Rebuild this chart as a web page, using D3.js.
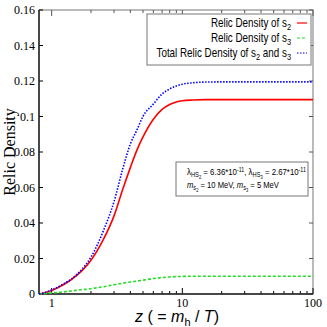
<!DOCTYPE html>
<html>
<head>
<meta charset="utf-8">
<script src="https://cdn.jsdelivr.net/npm/d3@7"></script>
<style>
  body { margin: 0; background: #fff; }
  svg { display: block; }
</style>
</head>
<body>
<svg width="327" height="327"></svg>
<script>
// values
const zValues = [0.8, 0.9, 1, 1.2, 1.4, 1.7, 2, 2.5, 3, 3.5, 4, 4.5, 5, 6, 7, 8, 9, 10, 12, 15, 20, 30, 50, 100];
const s2Density = [0, 0.0009, 0.002, 0.0048, 0.0079, 0.013, 0.019, 0.031, 0.044, 0.059, 0.0712, 0.0812, 0.0885, 0.0985, 0.1040, 0.1068, 0.1082, 0.1089, 0.1093, 0.1095, 0.1095, 0.1095, 0.1095, 0.1095];
const s3Density = [0, 0.0003, 0.0006, 0.0011, 0.0017, 0.0024, 0.003, 0.0041, 0.0052, 0.0061, 0.0068, 0.0073, 0.0078, 0.0087, 0.0093, 0.0096, 0.0098, 0.0099, 0.01, 0.01, 0.01, 0.01, 0.01, 0.01];
const totalDensity = [0, 0.001, 0.0022, 0.0052, 0.0082, 0.0138, 0.0208, 0.036, 0.052, 0.0705, 0.0845, 0.0925, 0.1001, 0.107, 0.1127, 0.1155, 0.1172, 0.1182, 0.119, 0.1194, 0.1195, 0.1195, 0.1195, 0.1195];
const yTicks = [0, 0.02, 0.04, 0.06, 0.08, 0.1, 0.12, 0.14, 0.16];
const xTickLabels = [1, 10, 100];

const margin = { left: 39, right: 14, top: 10, bottom: 33 };
const W = 327, H = 327;
const svg = d3.select('svg');

const x = d3.scaleLog().domain([0.8, 100]).range([margin.left, W - margin.right]);
const y = d3.scaleLinear().domain([0, 0.16]).range([H - margin.bottom, margin.top]);

const x0 = margin.left, x1 = W - margin.right, y0 = H - margin.bottom, y1 = margin.top;

// frame
svg.append('rect')
  .attr('x', x0).attr('y', y1)
  .attr('width', x1 - x0).attr('height', y0 - y1)
  .attr('fill', 'none').attr('stroke', '#777').attr('stroke-width', 1);

// minor/major log ticks (bottom & top, inward)
const logTicks = [];
for (let d = 1; d <= 10; d *= 10) {
  for (let k = 1; k < 10; k++) logTicks.push(k * d);
}
logTicks.push(100);
logTicks.forEach(t => {
  const major = xTickLabels.includes(t);
  const len = major ? 6 : 3;
  svg.append('line').attr('x1', x(t)).attr('x2', x(t)).attr('y1', y0).attr('y2', y0 - len)
    .attr('stroke', '#000').attr('stroke-width', 1);
  svg.append('line').attr('x1', x(t)).attr('x2', x(t)).attr('y1', y1).attr('y2', y1 + len)
    .attr('stroke', '#555').attr('stroke-width', 1);
});

// y ticks (left & right, inward)
yTicks.forEach(t => {
  svg.append('line').attr('x1', x0).attr('x2', x0 + 4).attr('y1', y(t)).attr('y2', y(t))
    .attr('stroke', '#000');
  svg.append('line').attr('x1', x1).attr('x2', x1 - 4).attr('y1', y(t)).attr('y2', y(t))
    .attr('stroke', '#555');
});

// left & bottom axis lines
svg.append('line').attr('x1', x0).attr('x2', x0).attr('y1', y1).attr('y2', y0)
  .attr('stroke', '#222').attr('stroke-width', 1.5);
svg.append('line').attr('x1', x0).attr('x2', x1).attr('y1', y0).attr('y2', y0)
  .attr('stroke', '#222').attr('stroke-width', 1.5);

// tick labels
svg.append('g').selectAll('text').data(yTicks).join('text')
  .attr('x', x0 - 4).attr('y', d => y(d) + 4)
  .attr('text-anchor', 'end')
  .attr('font-family', 'Liberation Serif').attr('font-size', 12)
  .text(d => d === 0 ? '0' : d3.format('.2~f')(d));

svg.append('g').selectAll('text').data(xTickLabels).join('text')
  .attr('x', d => x(d)).attr('y', y0 + 13)
  .attr('text-anchor', 'middle')
  .attr('font-family', 'Liberation Serif').attr('font-size', 12)
  .text(d => d);

// axis titles
svg.append('text')
  .attr('transform', `translate(15,${(y0 + y1) / 2}) rotate(-90)`)
  .attr('text-anchor', 'middle')
  .attr('font-family', 'Liberation Serif').attr('font-size', 16)
  .text('Relic Density');

const xt = svg.append('text')
  .attr('x', 177).attr('y', 322)
  .attr('text-anchor', 'middle')
  .attr('font-family', 'Liberation Sans').attr('font-size', 16);
xt.append('tspan').attr('font-style', 'italic').text('z');
xt.append('tspan').text(' ( = ');
xt.append('tspan').attr('font-style', 'italic').text('m');
xt.append('tspan').attr('font-size', 11).attr('dy', 4).text('h');
xt.append('tspan').attr('dy', -4).text(' / ');
xt.append('tspan').attr('font-style', 'italic').text('T');
xt.append('tspan').text(')');

// curves
const series = [
  { vals: s2Density, color: '#ff0000', dash: null, width: 1.6 },
  { vals: s3Density, color: '#22dd22', dash: '3,2', width: 1.6 },
  { vals: totalDensity, color: '#0000ff', dash: '1.5,1.5', width: 1.6 }
];
const line = d3.line().x(d => x(d[0])).y(d => y(d[1])).curve(d3.curveMonotoneX);
const plot = svg.append('g');
series.forEach(s => {
  plot.append('path')
    .attr('d', line(zValues.map((z, i) => [z, s.vals[i]])))
    .attr('fill', 'none')
    .attr('stroke', s.color)
    .attr('stroke-width', s.width)
    .attr('stroke-dasharray', s.dash);
});

// legend
svg.append('rect').attr('x', 147).attr('y', 14).attr('width', 164).attr('height', 51)
  .attr('fill', '#fff').attr('stroke', '#777');
const legendRows = [
  { parts: [['Relic Density of s', null], ['2', 'sub']], s: series[0] },
  { parts: [['Relic Density of s', null], ['3', 'sub']], s: series[1] },
  { parts: [['Total Relic Density of s', null], ['2', 'sub'], [' and s', null], ['3', 'sub']], s: series[2] }
];
legendRows.forEach((r, i) => {
  const yy = 27 + i * 15;
  const g = svg.append('g').attr('transform', `translate(291,${yy}) scale(0.82,1)`);
  const t = g.append('text').attr('text-anchor', 'end')
    .attr('font-family', 'Liberation Sans').attr('font-size', 12);
  let shifted = false;
  r.parts.forEach(([txt, kind]) => {
    const sp = t.append('tspan').text(txt);
    if (kind === 'sub' && !shifted) { sp.attr('dy', 3).attr('font-size', 9); shifted = true; }
    else if (kind === 'sub') { sp.attr('font-size', 9); }
    else if (shifted) { sp.attr('dy', -3); shifted = false; }
  });
  svg.append('line').attr('x1', 297).attr('x2', 307).attr('y1', yy - 4).attr('y2', yy - 4)
    .attr('stroke', r.s.color).attr('stroke-width', 1.2).attr('stroke-dasharray', r.s.dash);
});

// parameter box
svg.append('rect').attr('x', 176).attr('y', 162).attr('width', 132).attr('height', 34)
  .attr('fill', '#fff').attr('stroke', '#777');

// squeeze a text line horizontally to a target width
function fitLine(yPos, width, build) {
  const g = svg.append('g');
  const t = g.append('text').attr('x', 0).attr('y', 0)
    .attr('font-family', 'Liberation Sans').attr('font-size', 9.5);
  build(t);
  const natural = t.node().getComputedTextLength();
  g.attr('transform', `translate(187,${yPos}) scale(${width / natural},1)`);
}

fitLine(175, 119, p1 => {
  p1.append('tspan').text('λ');
  p1.append('tspan').attr('font-size', 7).attr('dy', 2).text('HS');
  p1.append('tspan').attr('font-size', 5).attr('dy', 1.5).text('2');
  p1.append('tspan').attr('dy', -3.5).text(' = 6.36*10');
  p1.append('tspan').attr('font-size', 6.5).attr('dy', -3.5).text('-11');
  p1.append('tspan').attr('dy', 3.5).text(', λ');
  p1.append('tspan').attr('font-size', 7).attr('dy', 2).text('HS');
  p1.append('tspan').attr('font-size', 5).attr('dy', 1.5).text('3');
  p1.append('tspan').attr('dy', -3.5).text(' = 2.67*10');
  p1.append('tspan').attr('font-size', 6.5).attr('dy', -3.5).text('-11');
});

fitLine(188, 92, p2 => {
  p2.append('tspan').attr('font-style', 'italic').text('m');
  p2.append('tspan').attr('font-size', 7).attr('dy', 2).text('s');
  p2.append('tspan').attr('font-size', 5).attr('dy', 1.5).text('2');
  p2.append('tspan').attr('dy', -3.5).text(' = 10 MeV, ');
  p2.append('tspan').attr('font-style', 'italic').text('m');
  p2.append('tspan').attr('font-size', 7).attr('dy', 2).text('s');
  p2.append('tspan').attr('font-size', 5).attr('dy', 1.5).text('3');
  p2.append('tspan').attr('dy', -3.5).text(' = 5 MeV');
});
</script>
</body>
</html>
